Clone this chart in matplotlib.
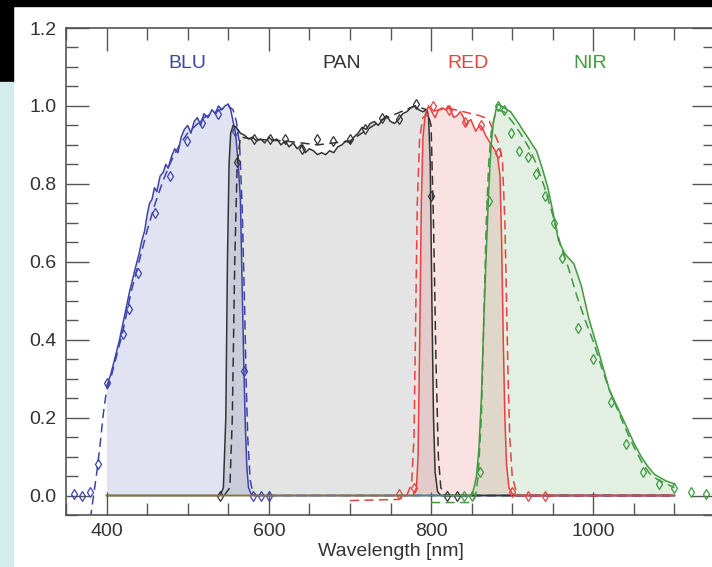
import matplotlib.pyplot as plt
from matplotlib.patches import Rectangle

plt.rcParams['font.family'] = ['Liberation Sans', 'DejaVu Sans']

# ---- filter transmission curves (wavelength in nm, relative transmission) ----
# BLU
blu_wl = [400, 405, 410, 416, 422, 428, 435, 440, 443, 447, 450, 453, 456, 459, 462,
          466, 470, 473, 476, 480, 484, 488, 492, 496, 500, 504, 508, 512, 516, 520,
          525, 530, 534, 538, 542, 546, 550, 553, 556, 559, 562, 565, 567, 569, 571,
          573, 575, 578, 582, 1100]
blu_t = [0.28, 0.31, 0.35, 0.40, 0.46, 0.52, 0.58, 0.62, 0.65, 0.68, 0.72, 0.75, 0.76, 0.79, 0.78,
         0.82, 0.83, 0.85, 0.84, 0.87, 0.89, 0.88, 0.92, 0.94, 0.95, 0.93, 0.96, 0.97, 0.95, 0.98,
         0.97, 0.99, 0.98, 1.00, 0.99, 1.00, 1.005, 0.99, 0.96, 0.93, 0.86, 0.76, 0.55, 0.35, 0.18,
         0.07, 0.02, 0.005, 0.0, 0.0]
blu_wl_d = [380, 384, 388, 392, 396, 400, 405, 410, 420, 430, 440, 450, 460, 470, 480, 490,
            500, 510, 520, 530, 540, 550, 556, 560, 564, 567, 570, 572, 574, 577, 580, 585, 1100]
blu_t_d = [-0.06, 0.0, 0.06, 0.13, 0.21, 0.27, 0.30, 0.34, 0.42, 0.52, 0.60, 0.68, 0.75, 0.81, 0.86, 0.90,
           0.93, 0.95, 0.97, 0.98, 0.99, 1.0, 0.99, 0.96, 0.90, 0.75, 0.50, 0.30, 0.15, 0.04, 0.01, 0.0, 0.0]
blu_wl_m = [360, 370, 380, 390, 400, 420, 428, 439, 460, 478, 499, 518, 537, 558, 570, 580, 590, 600]
blu_t_m = [0.005, 0.0, 0.01, 0.08, 0.29, 0.415, 0.48, 0.57, 0.725, 0.82, 0.91, 0.955, 0.98, 0.935,
           0.32, 0.0, 0.0, 0.0]

# PAN
pan_wl = [400, 540, 544, 547, 549, 551, 553, 556, 560, 565, 570, 575, 580, 585, 590, 595, 600,
          605, 610, 615, 620, 625, 630, 635, 640, 645, 650, 655, 660, 665, 670, 675, 680, 685,
          690, 695, 700, 705, 710, 715, 720, 725, 730, 735, 740, 745, 750, 755, 760, 765, 770,
          775, 780, 785, 790, 794, 797, 799, 801, 803, 805, 808, 812, 1100]
pan_t = [0.0, 0.0, 0.02, 0.2, 0.6, 0.85, 0.93, 0.95, 0.945, 0.93, 0.925, 0.915, 0.92, 0.91, 0.915,
         0.905, 0.92, 0.91, 0.915, 0.90, 0.91, 0.895, 0.905, 0.89, 0.90, 0.88, 0.89, 0.885, 0.875,
         0.88, 0.875, 0.885, 0.88, 0.895, 0.90, 0.91, 0.905, 0.92, 0.93, 0.945, 0.94, 0.955, 0.96,
         0.95, 0.965, 0.975, 0.96, 0.955, 0.965, 0.98, 0.985, 0.995, 1.0, 0.99, 0.985, 0.99, 0.97,
         0.85, 0.5, 0.2, 0.06, 0.01, 0.0, 0.0]
pan_wl_d = [545, 552, 555, 558, 561, 565, 580, 620, 660, 700, 740, 780, 795, 800, 803, 806,
            809, 812, 818, 1100]
pan_t_d = [0.0, 0.02, 0.2, 0.6, 0.85, 0.92, 0.915, 0.91, 0.90, 0.91, 0.965, 1.0, 0.99, 0.95,
           0.7, 0.35, 0.1, 0.02, 0.0, 0.0]
pan_wl_m = [540, 561, 582, 602, 620, 641, 660, 679, 700, 719, 740, 760, 781, 800, 820, 832]
pan_t_m = [0.0, 0.855, 0.915, 0.915, 0.915, 0.89, 0.915, 0.91, 0.915, 0.94, 0.97, 0.967, 1.005,
           0.77, 0.0, 0.0]

# RED
red_wl = [400, 778, 782, 784, 786, 788, 790, 793, 797, 801, 805, 809, 814, 818, 821, 825, 828,
          832, 836, 840, 843, 846, 849, 852, 855, 858, 861, 864, 867, 870, 873, 876, 879, 882,
          885, 887, 889, 891, 893, 896, 900, 905, 1100]
red_t = [0.0, 0.0, 0.02, 0.1, 0.4, 0.75, 0.92, 0.98, 1.0, 0.985, 0.97, 0.99, 0.995, 0.99, 1.0,
         0.985, 0.97, 0.975, 0.985, 0.97, 0.95, 0.96, 0.965, 0.95, 0.935, 0.945, 0.95, 0.94, 0.925,
         0.915, 0.905, 0.895, 0.885, 0.87, 0.82, 0.65, 0.4, 0.2, 0.08, 0.02, 0.005, 0.0, 0.0]
red_wl_d = [700, 760, 770, 776, 779, 781, 783, 786, 790, 800, 810, 820, 830, 840, 850, 860, 866,
            872, 878, 884, 888, 891, 893, 895, 897, 900, 905, 910, 1100]
red_t_d = [-0.013, -0.01, 0.0, 0.03, 0.15, 0.45, 0.75, 0.92, 0.97, 0.985, 0.99, 0.995, 0.99, 0.985,
           0.98, 0.975, 0.97, 0.96, 0.93, 0.90, 0.86, 0.7, 0.5, 0.3, 0.15, 0.05, 0.01, 0.0, 0.0]
red_wl_m = [760, 779, 802, 822, 842, 862, 882, 900, 920, 940]
red_t_m = [0.005, 0.02, 1.0, 0.99, 0.96, 0.95, 0.88, 0.01, 0.0, 0.0]

# NIR
nir_wl = [400, 850, 853, 856, 859, 862, 865, 868, 871, 874, 877, 880, 882, 886, 890, 894, 898,
          903, 908, 914, 919, 925, 930, 937, 944, 951, 957, 965, 976, 985, 995, 1005, 1020, 1038,
          1050, 1059, 1067, 1075, 1083, 1090, 1100]
nir_t = [0.0, 0.0, 0.02, 0.05, 0.12, 0.25, 0.45, 0.62, 0.78, 0.9, 0.96, 0.99, 1.005, 1.0, 0.995,
         0.99, 0.985, 0.97, 0.955, 0.935, 0.92, 0.9, 0.885, 0.84, 0.79, 0.72, 0.655, 0.62, 0.595,
         0.54, 0.45, 0.38, 0.27, 0.19, 0.135, 0.10, 0.075, 0.055, 0.045, 0.037, 0.03]
nir_wl_d = [800, 850, 855, 858, 862, 865, 868, 871, 874, 878, 882, 890, 900, 910, 920, 930, 940,
            950, 960, 970, 980, 990, 1000, 1010, 1020, 1030, 1040, 1050, 1060, 1070, 1080, 1090, 1100]
nir_t_d = [-0.018, -0.018, 0.0, 0.05, 0.2, 0.45, 0.7, 0.85, 0.93, 0.97, 0.99, 0.985, 0.96, 0.93,
           0.895, 0.85, 0.79, 0.72, 0.64, 0.58, 0.51, 0.45, 0.395, 0.33, 0.27, 0.22, 0.17, 0.125,
           0.085, 0.055, 0.04, 0.03, 0.02]
nir_wl_m = [840, 850, 860, 871, 882, 890, 898, 908, 919, 929, 941, 951, 962, 981, 1000, 1022,
            1040, 1061, 1081, 1100, 1120, 1139]
nir_t_m = [0.0, 0.0, 0.06, 0.755, 1.0, 0.99, 0.93, 0.885, 0.87, 0.825, 0.77, 0.70, 0.61, 0.43,
           0.35, 0.24, 0.133, 0.06, 0.03, 0.02, 0.008, 0.005]

band_names = ['BLU', 'PAN', 'RED', 'NIR']
band_label_x = [500, 690, 846, 996]
band_colors = ['#3d44a8', '#333333', '#e8413f', '#3f9a3f']
band_alpha = [0.15, 0.13, 0.15, 0.15]

bands = [
    (blu_wl, blu_t, blu_wl_d, blu_t_d, blu_wl_m, blu_t_m),
    (pan_wl, pan_t, pan_wl_d, pan_t_d, pan_wl_m, pan_t_m),
    (red_wl, red_t, red_wl_d, red_t_d, red_wl_m, red_t_m),
    (nir_wl, nir_t, nir_wl_d, nir_t_d, nir_wl_m, nir_t_m),
]

fig = plt.figure(figsize=(7.12, 5.67), dpi=100)

# frame decoration around the plot
fig.patches.append(Rectangle((0, 561 / 567), 1, 6 / 567, transform=fig.transFigure,
                             color='black', zorder=-5))
fig.patches.append(Rectangle((0, 485 / 567), 13 / 712, 82 / 567, transform=fig.transFigure,
                             color='black', zorder=-5))
fig.patches.append(Rectangle((0, 0), 13 / 712, 485 / 567, transform=fig.transFigure,
                             color='#d3ecec', zorder=-5))

ax = fig.add_axes([66 / 712, 52 / 567, 649 / 712, 487 / 567])

for (wl, t, wl_d, t_d, wl_m, t_m), c, a in zip(bands, band_colors, band_alpha):
    ax.fill_between(wl, t, 0, color=c, alpha=a, lw=0)
    ax.plot(wl, t, color=c, lw=1.1)
    ax.plot(wl_d, t_d, color=c, lw=1.1, ls=(0, (6, 3.5)))
    ax.plot(wl_m, t_m, ls='none', marker='d', ms=5, mfc='none', mec=c, mew=0.9)

for name, x, c in zip(band_names, band_label_x, band_colors):
    ax.text(x, 1.11, name, color=c, fontsize=14, ha='center', va='center')

ax.set_xlim(350, 1150)
ax.set_ylim(-0.05, 1.2)
ax.set_xticks([400, 600, 800, 1000])
ax.set_xticks(range(350, 1151, 50), minor=True)
ax.set_yticks([0.0, 0.2, 0.4, 0.6, 0.8, 1.0, 1.2])
ax.set_yticklabels(['0.0', '0.2', '0.4', '0.6', '0.8', '1.0', '1.2'])
ax.set_yticks([i * 0.05 for i in range(-1, 25)], minor=True)
ax.set_xlabel('Wavelength [nm]', fontsize=14, color='#333333', labelpad=2)

ax.tick_params(which='both', direction='in', top=True, right=True, color='#555555',
               labelcolor='#333333', labelsize=14, width=1.0)
ax.tick_params(which='major', length=16.5)
ax.tick_params(which='minor', length=8.5)
ax.tick_params(axis='y', pad=7)
ax.tick_params(axis='x', pad=6)
for s in ax.spines.values():
    s.set_color('#555555')
    s.set_linewidth(1.2)

fig.savefig('out.png', dpi=100)
